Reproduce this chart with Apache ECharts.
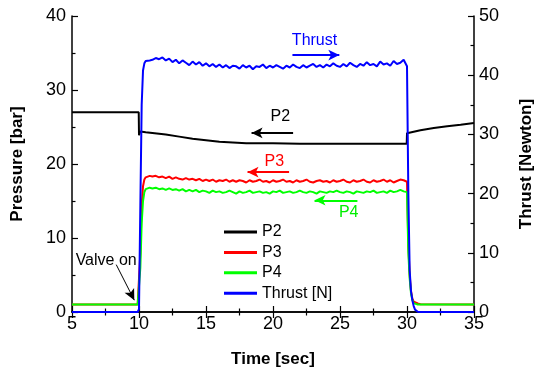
<!DOCTYPE html>
<html>
<head>
<meta charset="utf-8">
<script src="https://cdn.jsdelivr.net/npm/echarts@6/dist/echarts.min.js"></script>
<style>
  html, body { margin: 0; padding: 0; background: #fff; }
  #chart { width: 536px; height: 372px; }
</style>
</head>
<body>
<div id="chart"></div>
<script>
// time base for P3, P4 and thrust (sec)
var tFine = [5, 9.9, 10.0, 10.1, 10.2, 10.3, 10.4, 10.5, 10.6, 10.8,
  11, 11.25, 11.5, 11.75, 12, 12.25, 12.5, 12.75, 13, 13.25, 13.5, 13.75,
  14, 14.25, 14.5, 14.75, 15, 15.25, 15.5, 15.75, 16, 16.25, 16.5, 16.75,
  17, 17.25, 17.5, 17.75, 18, 18.25, 18.5, 18.75, 19, 19.25, 19.5, 19.75,
  20, 20.25, 20.5, 20.75, 21, 21.25, 21.5, 21.75, 22, 22.25, 22.5, 22.75,
  23, 23.25, 23.5, 23.75, 24, 24.25, 24.5, 24.75, 25, 25.25, 25.5, 25.75,
  26, 26.25, 26.5, 26.75, 27, 27.25, 27.5, 27.75, 28, 28.25, 28.5, 28.75,
  29, 29.25, 29.5, 29.75,
  30.0, 30.1, 30.2, 30.3, 30.4, 30.5, 30.6, 30.8, 31.0, 35];

// thrust [N]
var thrust = [0, 0, 0.5, 18, 35, 40.8, 42.0, 42.4, 42.6, 42.5,
  42.6, 42.9, 42.7, 43.0, 42.5, 42.8, 42.2, 42.6, 42.0, 42.5, 42.1, 41.7,
  42.3, 41.8, 42.2, 41.6, 42.0, 41.5, 41.9, 41.4, 41.8, 41.3, 41.7, 41.2,
  41.6, 41.5, 41.1, 41.7, 41.3, 41.6, 41.0, 41.5, 41.4, 41.8, 41.2, 41.6,
  41.3, 41.7, 41.4, 41.1, 41.6, 41.3, 41.8, 41.4, 41.2, 41.7, 41.3, 41.6,
  41.9, 41.4, 41.7, 41.3, 41.8, 41.5, 42.0, 41.6, 41.4, 41.9, 41.5, 42.1,
  41.7, 41.4, 41.9, 41.6, 42.2, 41.7, 41.9, 41.5, 42.3, 41.8, 42.0, 41.6,
  42.4, 41.9, 42.1, 42.6,
  41.5, 20, 7, 3.5, 2, 1, 0.4, 0.05, 0, 0];

// P3 [bar]
var p3 = [1.0, 1.0, 1.0, 8, 14.5, 17.0, 17.9, 18.2, 18.3, 18.4,
  18.3, 18.4, 18.2, 18.3, 18.1, 18.3, 18.0, 18.2, 18.0, 17.9, 18.1, 17.9,
  18.0, 17.8, 18.0, 17.7, 17.9, 17.7, 17.9, 17.6, 17.8, 17.7, 17.9, 17.6,
  17.8, 17.6, 17.8, 17.7, 17.5, 17.8, 17.6, 17.7, 17.9, 17.6, 17.7, 17.5,
  17.8, 17.6, 17.7, 17.9, 17.6, 17.7, 17.5, 17.8, 17.6, 17.7, 17.9, 17.6,
  17.5, 17.7, 17.8, 17.6, 17.7, 17.5, 17.8, 17.6, 17.7, 17.9, 17.6, 17.5,
  17.8, 17.6, 17.7, 17.9, 17.6, 17.5, 17.8, 17.6, 17.7, 17.9, 17.6, 17.8,
  17.5, 17.7, 17.9, 17.8,
  17.6, 9, 5, 2.8, 1.8, 1.4, 1.25, 1.15, 1.05, 1.0];

// P4 [bar]
var p4 = [1.0, 1.0, 1.0, 6, 12, 15, 16.2, 16.6, 16.7, 16.8,
  16.7, 16.8, 16.6, 16.7, 16.5, 16.7, 16.5, 16.6, 16.4, 16.6, 16.3, 16.5,
  16.3, 16.5, 16.2, 16.4, 16.3, 16.1, 16.4, 16.2, 16.3, 16.1, 16.2, 16.4,
  16.2, 16.0, 16.3, 16.1, 16.2, 16.4, 16.1, 16.2, 16.3, 16.1, 16.2, 16.0,
  16.3, 16.2, 16.4, 16.1, 16.2, 16.3, 16.1, 16.2, 16.4, 16.2, 16.1, 16.3,
  16.2, 16.0, 16.3, 16.2, 16.1, 16.3, 16.2, 16.4, 16.2, 16.1, 16.3, 16.2,
  16.0, 16.3, 16.2, 16.1, 16.3, 16.2, 16.4, 16.1, 16.2, 16.3, 16.1, 16.4,
  16.2, 16.3, 16.5, 16.3,
  16.2, 8, 4.5, 2.5, 1.6, 1.2, 1.05, 1.0, 1.0, 1.0];

// P2 [bar], smooth so coarser time base
var tP2 = [5, 9.98, 10.0, 10.1, 10.5, 11, 12, 13, 14, 15, 16, 17, 18, 20, 22, 25, 28, 29.98,
  30.0, 30.5, 31, 32, 33, 34, 35];
var p2 = [27.0, 27.0, 23.9, 24.4, 24.3, 24.2, 24.0, 23.7, 23.4, 23.2, 23.0, 22.9, 22.8, 22.8, 22.75, 22.75, 22.75, 22.75,
  24.15, 24.35, 24.55, 24.85, 25.1, 25.3, 25.55];

var xTicks = [5, 10, 15, 20, 25, 30, 35];
var pressureTicks = [0, 10, 20, 30, 40];
var thrustTicks = [0, 10, 20, 30, 40, 50];

// annotations [x, y] in data units
var thrustArrow = [[21.45, 43.4], [24.95, 43.4]];
var p2Arrow = [[21.5, 24.2], [18.4, 24.2]];
var p3Arrow = [[21.2, 18.9], [18.1, 18.9]];
var p4Arrow = [[26.3, 15.1], [23.1, 15.1]];
var valveArrow = [[8.3, 6.4], [9.65, 1.6]];
var labels = [
  {text: 'Thrust', at: [23.1, 45.9], axis: 1, color: '#0000ff'},
  {text: 'P2', at: [20.55, 26.35], axis: 0, color: '#000000'},
  {text: 'P3', at: [20.1, 20.3], axis: 0, color: '#ff0000'},
  {text: 'P4', at: [25.65, 13.4], axis: 0, color: '#00ee00'},
  {text: 'Valve on', at: [7.55, 6.9], axis: 0, color: '#000000'}
];

function pairs(t, v) {
  var out = [];
  for (var i = 0; i < t.length; i++) out.push([t[i], v[i]]);
  return out;
}

function arrow(a, color, width) {
  return [
    {coord: a[0], lineStyle: {color: color, width: width, type: 'solid'}},
    {coord: a[1]}
  ];
}

var font = "'Liberation Sans', Arial, sans-serif";
var chart = echarts.init(document.getElementById('chart'));

var axisLineStyle = {color: '#000', width: 1.5};
var tickStyle = {inside: true, length: 6, lineStyle: {color: '#000', width: 1.2}};
var minorStyle = {show: true, splitNumber: 2, length: 3.5, lineStyle: {color: '#000', width: 1.2}};

chart.setOption({
  animation: false,
  textStyle: {fontFamily: font},
  grid: {left: 72, right: 62, top: 16, bottom: 60, containLabel: false, outerBoundsMode: 'none'},
  legend: {
    orient: 'vertical',
    left: 219,
    top: 219,
    icon: 'rect',
    itemWidth: 33,
    itemHeight: 3,
    itemGap: 4.4,
    textStyle: {fontSize: 16, color: '#000', fontFamily: font, lineHeight: 16},
    data: ['P2', 'P3', 'P4', 'Thrust [N]']
  },
  xAxis: [{
    type: 'value',
    min: xTicks[0], max: xTicks[xTicks.length - 1], interval: 5,
    name: 'Time [sec]',
    nameLocation: 'middle',
    nameGap: 39,
    nameTextStyle: {fontSize: 17, fontWeight: 'bold', color: '#000', fontFamily: font},
    axisLine: {lineStyle: axisLineStyle},
    axisTick: tickStyle,
    minorTick: minorStyle,
    axisLabel: {fontSize: 18, color: '#000', margin: 3, fontFamily: font},
    splitLine: {show: false}
  }, {
    type: 'value',
    position: 'top',
    min: xTicks[0], max: xTicks[xTicks.length - 1], interval: 5,
    axisLine: {show: true, lineStyle: axisLineStyle},
    axisTick: tickStyle,
    minorTick: minorStyle,
    axisLabel: {show: false},
    splitLine: {show: false}
  }],
  yAxis: [{
    type: 'value',
    min: 0, max: pressureTicks[pressureTicks.length - 1], interval: 10,
    name: 'Pressure [bar]',
    nameLocation: 'middle',
    nameRotate: 90,
    nameGap: 46,
    nameTextStyle: {fontSize: 17, fontWeight: 'bold', color: '#000', fontFamily: font},
    axisLine: {show: true, lineStyle: axisLineStyle},
    axisTick: tickStyle,
    minorTick: minorStyle,
    axisLabel: {fontSize: 18, color: '#000', margin: 6, fontFamily: font},
    splitLine: {show: false}
  }, {
    type: 'value',
    position: 'right',
    min: 0, max: thrustTicks[thrustTicks.length - 1], interval: 10,
    name: 'Thrust [Newton]',
    nameLocation: 'middle',
    nameRotate: 90,
    nameGap: 44,
    nameTextStyle: {fontSize: 17, fontWeight: 'bold', color: '#000', fontFamily: font},
    axisLine: {show: true, lineStyle: axisLineStyle},
    axisTick: tickStyle,
    minorTick: minorStyle,
    axisLabel: {fontSize: 18, color: '#000', margin: 5, fontFamily: font},
    splitLine: {show: false}
  }],
  series: [{
    name: 'P2', type: 'line', showSymbol: false, color: '#000000',
    lineStyle: {width: 2}, data: pairs(tP2, p2),
    markLine: {
      silent: true, symbol: ['none', 'arrow'], symbolSize: [8, 11],
      label: {show: false},
      data: [arrow(p2Arrow, '#000000', 2), arrow(valveArrow, '#000000', 1)]
    }
  }, {
    name: 'P3', type: 'line', showSymbol: false, color: '#ff0000',
    lineStyle: {width: 2}, data: pairs(tFine, p3),
    markLine: {
      silent: true, symbol: ['none', 'arrow'], symbolSize: [8, 11],
      label: {show: false},
      data: [arrow(p3Arrow, '#ff0000', 2)]
    }
  }, {
    name: 'P4', type: 'line', showSymbol: false, color: '#00ff00',
    lineStyle: {width: 2}, data: pairs(tFine, p4),
    markLine: {
      silent: true, symbol: ['none', 'arrow'], symbolSize: [8, 11],
      label: {show: false},
      data: [arrow(p4Arrow, '#00ff00', 2)]
    }
  }, {
    name: 'Thrust [N]', type: 'line', showSymbol: false, color: '#0000ff',
    yAxisIndex: 1,
    lineStyle: {width: 2}, data: pairs(tFine, thrust),
    markLine: {
      silent: true, symbol: ['none', 'arrow'], symbolSize: [8, 11],
      label: {show: false},
      data: [arrow(thrustArrow, '#0000ff', 2)]
    }
  }]
});

// text annotations placed through the axes
var texts = labels.map(function (l) {
  var px = chart.convertToPixel({xAxisIndex: 0, yAxisIndex: l.axis}, l.at);
  return {
    type: 'text', x: px[0], y: px[1], silent: true,
    style: {text: l.text, fill: l.color, font: '16px ' + font, align: 'center', verticalAlign: 'middle'}
  };
});
chart.setOption({graphic: texts});
</script>
</body>
</html>
